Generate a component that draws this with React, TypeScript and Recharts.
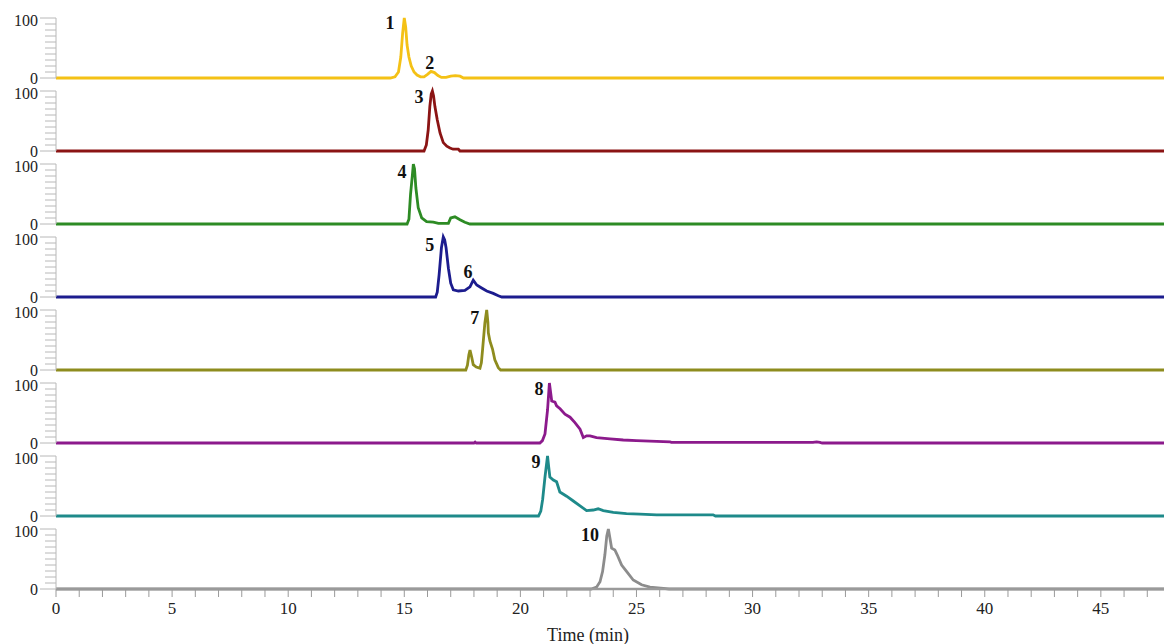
import { LineChart, Line, XAxis, YAxis, ReferenceDot } from "recharts";

const X_MAX = 47.72;
const xTicks = Array.from({ length: 48 }, (_, i) => i);
const yTicks = [0, 10, 20, 30, 40, 50, 60, 70, 80, 90, 100];
const yMajor = [0, 100];

// [time (min), relative intensity]
const trace1 = [
  [0, 0], [14.4, 0], [14.6, 2], [14.75, 10], [14.85, 35], [14.93, 75], [15.0, 100], [15.06, 85],
  [15.12, 55], [15.2, 35], [15.3, 20], [15.42, 10], [15.55, 5], [15.7, 2], [15.85, 2], [16.0, 6],
  [16.15, 11], [16.3, 9], [16.45, 4], [16.6, 1], [16.8, 1], [17.0, 3], [17.2, 4], [17.4, 3],
  [17.55, 0], [X_MAX, 0],
];
const trace2 = [
  [0, 0], [15.85, 0], [15.95, 10], [16.03, 35], [16.1, 74], [16.16, 95], [16.21, 100], [16.26, 92],
  [16.32, 74], [16.42, 52], [16.54, 30], [16.68, 14], [16.83, 8], [16.97, 5], [17.1, 3], [17.33, 3],
  [17.4, 0], [X_MAX, 0],
];
const trace3 = [
  [0, 0], [15.12, 0], [15.2, 8], [15.27, 50], [15.35, 82], [15.39, 100], [15.44, 92], [15.5, 60],
  [15.6, 27], [15.75, 10], [15.96, 4], [16.25, 3], [16.47, 1], [16.9, 1], [17.0, 10], [17.18, 12],
  [17.4, 7], [17.61, 3], [17.83, 0], [X_MAX, 0],
];
const trace4 = [
  [0, 0], [16.35, 0], [16.42, 8], [16.5, 37], [16.6, 82], [16.68, 100], [16.74, 95], [16.8, 82],
  [16.9, 48], [17.0, 23], [17.11, 12], [17.33, 10], [17.61, 11], [17.83, 17], [17.97, 28],
  [18.12, 20], [18.33, 15], [18.55, 10], [18.83, 6], [19.05, 2], [19.2, 0], [X_MAX, 0],
];
const trace5 = [
  [0, 0], [17.65, 0], [17.72, 8], [17.78, 25], [17.83, 33], [17.9, 22], [17.97, 9], [18.1, 5],
  [18.26, 3], [18.32, 12], [18.37, 33], [18.47, 78], [18.55, 100], [18.6, 80], [18.62, 62],
  [18.69, 48], [18.8, 35], [18.9, 17], [19.05, 4], [19.15, 0], [X_MAX, 0],
];
const trace6 = [
  [0, 0], [18.0, 0], [18.05, 1.5], [18.1, 0], [20.84, 0], [20.95, 4], [21.06, 15], [21.17, 55],
  [21.25, 100], [21.3, 85], [21.35, 70], [21.49, 68], [21.56, 62], [21.71, 57], [21.92, 48],
  [22.14, 43], [22.35, 34], [22.57, 23], [22.71, 9], [22.85, 12], [23.0, 12], [23.28, 9],
  [23.86, 7], [24.43, 5], [25.0, 4], [25.58, 3], [26.44, 2], [26.5, 1], [32.6, 1], [32.76, 2],
  [32.9, 1], [33.0, 0], [X_MAX, 0],
];
const trace7 = [
  [0, 0], [20.78, 0], [20.88, 8], [20.96, 28], [21.06, 65], [21.17, 100], [21.22, 82], [21.27, 65],
  [21.42, 60], [21.56, 57], [21.7, 40], [21.99, 33], [22.28, 25], [22.57, 17], [22.85, 9],
  [23.14, 10], [23.35, 12], [23.57, 9], [24.0, 6], [24.57, 4], [25.15, 3], [25.87, 2], [28.3, 2],
  [28.4, 0], [X_MAX, 0],
];
const trace8 = [
  [0, 0], [23.05, 0], [23.28, 3], [23.43, 12], [23.54, 29], [23.64, 57], [23.72, 88], [23.79, 100],
  [23.86, 84], [23.93, 68], [24.07, 65], [24.17, 57], [24.36, 40], [24.58, 29], [24.86, 15],
  [25.22, 7], [25.58, 3], [26.16, 1], [26.4, 0], [X_MAX, 0],
];

// peak number labels: [label, time, intensity] (where the label sits)
const peaks1 = [["1", 14.38, 93], ["2", 16.1, 25]];
const peaks2 = [["3", 15.63, 90]];
const peaks3 = [["4", 14.9, 87]];
const peaks4 = [["5", 16.1, 88], ["6", 17.74, 42]];
const peaks5 = [["7", 18.04, 87]];
const peaks6 = [["8", 20.8, 90]];
const peaks7 = [["9", 20.67, 90]];
const peaks8 = [["10", 23.0, 90]];

const panels = [
  { points: trace1, peaks: peaks1, color: "#F4C116" },
  { points: trace2, peaks: peaks2, color: "#8B1414" },
  { points: trace3, peaks: peaks3, color: "#2D8B24" },
  { points: trace4, peaks: peaks4, color: "#1C1C8E" },
  { points: trace5, peaks: peaks5, color: "#8E8C1E" },
  { points: trace6, peaks: peaks6, color: "#8C1A8C" },
  { points: trace7, peaks: peaks7, color: "#1E8A8A" },
  { points: trace8, peaks: peaks8, color: "#8C8C8C" },
];

const FONT = "'Liberation Serif', 'DejaVu Serif', serif";
const STEP = 73;
const PLOT_TOP = 18;
const PLOT_H = 60;

function YTick(props: any) {
  const { x, y, payload } = props;
  const major = yMajor.includes(payload.value);
  const shift = payload.value === 100 ? 2 : 0;
  return (
    <g>
      <line x1={x - (major ? 16 : 11)} x2={x} y1={y} y2={y} stroke="#b8b8b8" strokeWidth={1} />
      {major && (
        <text x={x - 18} y={y + shift} dy="0.35em" textAnchor="end" fontFamily={FONT} fontSize={16} fill="#222">
          {payload.value}
        </text>
      )}
    </g>
  );
}

function PeakLabel(props: any) {
  const { cx, cy, text } = props;
  return (
    <text x={cx} y={cy} dy="0.35em" textAnchor="middle" fontFamily={FONT} fontSize={18} fontWeight="bold" fill="#111">
      {text}
    </text>
  );
}

function Panel({ index }: { index: number }) {
  const p = panels[index];
  const last = index === panels.length - 1;
  const axisH = last ? 55 : 0;
  const height = last ? PLOT_TOP + PLOT_H + axisH : 92;
  const data = p.points.map(([t, v]) => ({ t, v }));
  return (
    <div style={{ position: "absolute", left: 0, top: STEP * index, width: 1164, height }}>
      <LineChart
        width={1164}
        height={height}
        data={data}
        margin={{ top: PLOT_TOP, right: 0, left: 0, bottom: height - PLOT_TOP - PLOT_H - axisH }}
      >
        <XAxis
          dataKey="t"
          type="number"
          domain={[0, X_MAX]}
          ticks={xTicks}
          interval={0}
          height={axisH}
          tick={last ? { fontFamily: FONT, fontSize: 17, fill: "#222" } : false}
          tickFormatter={(v: number) => (v % 5 === 0 ? String(v) : "")}
          tickLine={last ? { stroke: "#9a9a9a" } : false}
          tickSize={8}
          tickMargin={5}
          axisLine={{ stroke: last ? "#9a9a9a" : "#cfcfcf", strokeWidth: last ? 2.5 : 1 }}
          label={
            last
              ? {
                  content: ({ viewBox }: any) => (
                    <text
                      x={viewBox.x + viewBox.width / 2 - 22}
                      y={viewBox.y + 46}
                      dy="0.35em"
                      textAnchor="middle"
                      fontFamily={FONT}
                      fontSize={18}
                      fill="#222"
                    >
                      Time (min)
                    </text>
                  ),
                }
              : undefined
          }
        />
        <YAxis
          type="number"
          domain={[0, 100]}
          ticks={yTicks}
          interval={0}
          width={56}
          tickSize={0}
          tickMargin={0}
          tickLine={false}
          tick={<YTick />}
          axisLine={{ stroke: "#b8b8b8" }}
        />
        <Line
          type="linear"
          dataKey="v"
          stroke={p.color}
          strokeWidth={2.8}
          dot={false}
          isAnimationActive={false}
        />
        {p.peaks.map(([label, t, v]) => (
          <ReferenceDot
            key={String(label)}
            x={t as number}
            y={v as number}
            r={0}
            ifOverflow="visible"
            shape={(s: any) => <PeakLabel {...s} text={label} />}
          />
        ))}
      </LineChart>
    </div>
  );
}

export default function App() {
  return (
    <div style={{ position: "absolute", left: 0, top: 0, width: 1164, height: 644, background: "#fff" }}>
      {panels.map((_, i) => (
        <Panel key={i} index={i} />
      ))}
    </div>
  );
}
